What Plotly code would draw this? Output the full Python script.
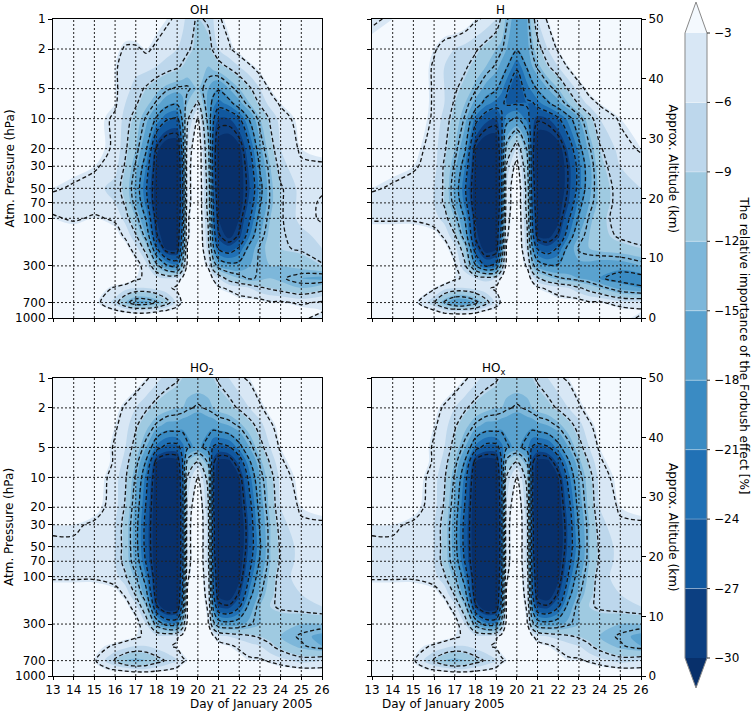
import numpy as np
import plotly.graph_objects as go

# day of January 2005 (columns) and pressure levels in hPa (rows, top to bottom)
days = [13, 14, 15, 16, 16.5, 17, 17.5, 18, 18.5, 19, 19.25, 19.5,
        20, 20.5, 20.75, 21, 21.5, 22, 22.5, 23, 23.5, 24, 25, 26]
pressure = [1, 2, 3, 5, 7, 10, 20, 30, 50, 70, 100, 150, 200, 300, 400, 500, 700, 850, 1000]

# relative importance of the Forbush effect [%]
oh_z = [
    [0, 0, 0, 0, 0, 0, 0, -2, -3, -4, -5, -7, -9, -8, -6, -4, -2, 0, 0, 0, 0, 0, 0, 0],
    [0, 0, 0, -2, -4, -4, -3, -4, -5, -6, -7, -8, -10, -10, -8, -6, -4, -2, 0, 0, 0, 0, 0, 0],
    [0, 0, 0, -3, -5, -5, -5, -6, -7, -8, -9, -10, -11, -12, -11, -10, -8, -6, -4, -2, 0, 0, 0, 0],
    [0, 0, 0, -3, -5, -7, -9, -11, -13, -14, -14, -14, -12, -15, -17, -18, -15, -12, -9, -6, -3, -2, 0, 0],
    [0, 0, 0, -3, -6, -8, -11, -14, -17, -18, -16, -12, -8, -16, -20, -22, -20, -16, -12, -8, -5, -3, 0, 0],
    [0, 0, -2, -4, -7, -10, -14, -19, -23, -24, -18, -9, -3, -15, -23, -27, -27, -24, -18, -12, -8, -5, -2, 0],
    [0, 0, -2, -4, -8, -12, -18, -29, -33, -33, -22, -6, 0, -12, -26, -32, -33, -31, -24, -16, -10, -6, -3, -2],
    [-2, -2, -3, -5, -9, -14, -21, -31, -34, -34, -24, -5, 0, -11, -26, -32, -34, -32, -26, -18, -12, -7, -4, -4],
    [-3, -4, -5, -7, -10, -16, -23, -32, -35, -34, -25, -5, 0, -10, -25, -32, -34, -32, -27, -20, -13, -9, -5, -4],
    [-5, -5, -5, -6, -9, -15, -22, -32, -35, -34, -25, -5, 0, -10, -24, -31, -33, -32, -26, -19, -13, -9, -5, -3],
    [-3, -4, -3, -4, -7, -12, -19, -30, -34, -33, -24, -4, 0, -9, -23, -30, -32, -30, -24, -17, -12, -9, -5, -3],
    [0, -1, -1, -2, -4, -8, -15, -28, -33, -32, -22, -4, 0, -8, -21, -28, -31, -28, -21, -15, -11, -9, -7, -5],
    [0, 0, 0, 0, -2, -5, -10, -23, -31, -31, -20, -3, 0, -7, -18, -24, -26, -23, -17, -13, -11, -9, -8, -6],
    [0, 0, 0, 0, 0, -2, -5, -12, -18, -20, -12, -2, 0, -4, -11, -15, -17, -17, -15, -13, -12, -12, -11, -9],
    [0, 0, 0, 0, -1, -3, -4, -5, -6, -5, -3, 0, 0, -1, -4, -6, -10, -12, -14, -13, -12, -13, -15, -16],
    [0, 0, -1, -4, -5, -6, -6, -5, -4, -3, -2, -1, 0, 0, -1, -3, -4, -5, -6, -8, -9, -10, -12, -10],
    [0, 0, -2, -7, -12, -16, -16, -14, -10, -5, -3, -2, -1, 0, 0, 0, -1, -2, -2, -2, -3, -3, -4, -3],
    [0, 0, -1, -3, -4, -5, -5, -4, -3, -2, -1, 0, 0, 0, 0, 0, 0, 0, 0, 0, 0, 0, -2, -3],
    [0, 0, 0, 0, 0, 0, 0, 0, 0, 0, 0, 0, 0, 0, 0, 0, 0, 0, 0, 0, 0, 0, -2, -6],
]

h_z = [
    [-4, -3, 0, 0, 0, 0, -1, -3, -4, -6, -9, -13, -17, -15, -10, -6, -3, 0, 0, 0, 0, 0, 0, 0],
    [-2, -1, 0, -3, -5, -6, -7, -8, -10, -12, -13, -15, -18, -16, -13, -10, -6, -3, 0, 0, 0, 0, 0, 0],
    [0, 0, 0, -4, -6, -7, -8, -10, -12, -14, -16, -18, -23, -18, -15, -13, -9, -6, -3, 0, 0, 0, 0, 0],
    [0, 0, 0, -4, -6, -8, -10, -13, -16, -18, -20, -23, -26, -22, -20, -18, -15, -12, -8, -5, -2, 0, 0, 0],
    [0, 0, 0, -4, -6, -9, -12, -16, -20, -22, -23, -24, -24, -24, -24, -22, -19, -16, -12, -8, -5, -3, 0, 0],
    [0, 0, -1, -4, -7, -10, -14, -22, -26, -27, -24, -20, -18, -22, -26, -28, -27, -24, -20, -15, -10, -6, -3, -2],
    [0, 0, -2, -5, -8, -12, -18, -30, -33, -33, -25, -12, -6, -14, -27, -33, -34, -32, -26, -20, -14, -9, -5, -3],
    [-2, -2, -3, -5, -9, -14, -21, -31, -34, -34, -25, -8, -2, -12, -27, -33, -34, -33, -28, -22, -16, -10, -6, -5],
    [-3, -4, -5, -6, -9, -16, -23, -32, -35, -34, -25, -6, 0, -10, -26, -32, -34, -33, -28, -22, -16, -11, -7, -6],
    [-5, -5, -5, -6, -9, -15, -22, -32, -35, -34, -25, -6, 0, -10, -25, -32, -34, -32, -27, -20, -15, -11, -7, -6],
    [-4, -4, -4, -5, -7, -12, -19, -30, -34, -33, -24, -5, 0, -9, -24, -31, -33, -31, -24, -18, -13, -10, -7, -6],
    [-1, -1, -1, -2, -4, -8, -16, -29, -33, -32, -22, -4, 0, -8, -22, -30, -31, -28, -21, -15, -12, -10, -8, -7],
    [0, 0, 0, 0, -2, -5, -11, -26, -32, -31, -20, -3, 0, -7, -18, -24, -26, -23, -17, -13, -12, -11, -10, -9],
    [0, 0, 0, 0, -1, -3, -8, -18, -24, -22, -12, -2, 0, -4, -12, -16, -18, -18, -17, -16, -16, -17, -17, -15],
    [0, 0, 0, 0, -1, -3, -4, -6, -7, -6, -3, 0, 0, -1, -5, -8, -11, -13, -14, -15, -16, -18, -20, -20],
    [0, 0, -1, -3, -5, -6, -6, -5, -4, -3, -2, -1, 0, 0, -1, -3, -4, -5, -6, -8, -10, -12, -16, -18],
    [0, 0, -2, -8, -14, -18, -18, -15, -10, -5, -3, -2, -1, 0, 0, 0, -1, -2, -2, -2, -3, -3, -5, -5],
    [0, 0, -1, -3, -5, -6, -6, -5, -3, -2, -1, 0, 0, 0, 0, 0, 0, 0, 0, 0, 0, 0, -2, -3],
    [0, 0, 0, 0, 0, 0, 0, 0, 0, 0, 0, 0, 0, 0, 0, 0, 0, 0, 0, 0, 0, 0, -2, -4],
]

ho2_z = [
    [0, 0, 0, 0, 0, -1, -3, -5, -7, -8, -9, -10, -10, -10, -9, -8, -6, -4, -3, -1, 0, 0, 0, 0],
    [0, 0, 0, -2, -4, -6, -8, -10, -11, -12, -12, -13, -14, -13, -12, -11, -10, -8, -6, -4, -2, 0, 0, 0],
    [0, 0, 0, -3, -5, -8, -11, -14, -16, -16, -17, -17, -18, -17, -17, -16, -15, -13, -10, -7, -4, -2, 0, 0],
    [0, 0, 0, -4, -6, -10, -15, -22, -25, -25, -22, -19, -17, -20, -24, -25, -24, -20, -15, -10, -6, -3, 0, 0],
    [0, 0, 0, -4, -7, -12, -19, -30, -32, -31, -24, -12, -8, -14, -28, -31, -31, -26, -19, -13, -8, -4, -1, 0],
    [0, 0, -1, -5, -8, -14, -22, -32, -34, -33, -25, -8, -3, -10, -28, -33, -33, -30, -22, -15, -10, -5, -2, -1],
    [-1, -1, -2, -5, -9, -16, -24, -33, -35, -34, -26, -6, 0, -8, -28, -34, -35, -32, -25, -17, -11, -6, -3, -2],
    [-3, -3, -4, -6, -10, -17, -25, -33, -35, -34, -26, -5, 0, -7, -27, -34, -35, -33, -26, -18, -12, -7, -4, -4],
    [-4, -4, -5, -6, -10, -17, -25, -33, -35, -34, -26, -5, 0, -7, -27, -34, -35, -33, -26, -19, -12, -8, -5, -4],
    [-5, -5, -5, -6, -10, -16, -24, -33, -35, -34, -26, -5, 0, -7, -26, -33, -35, -32, -25, -18, -12, -8, -5, -5],
    [-4, -4, -4, -5, -8, -13, -21, -32, -35, -34, -25, -4, 0, -6, -25, -32, -34, -31, -23, -16, -11, -7, -5, -4],
    [-1, -1, -1, -2, -4, -9, -17, -31, -34, -33, -24, -3, 0, -5, -23, -31, -32, -28, -20, -14, -10, -7, -6, -5],
    [0, 0, 0, 0, -2, -5, -12, -28, -33, -32, -22, -3, 0, -4, -20, -27, -28, -24, -17, -12, -9, -8, -7, -6],
    [0, 0, 0, 0, 0, -2, -6, -15, -20, -20, -12, -2, 0, -3, -12, -16, -17, -16, -14, -12, -11, -11, -12, -12],
    [0, 0, 0, -1, -2, -3, -4, -5, -5, -4, -2, -1, 0, -1, -3, -5, -6, -7, -8, -9, -10, -12, -14, -16],
    [0, 0, -2, -4, -5, -6, -6, -5, -4, -3, -2, -1, 0, 0, -1, -2, -3, -4, -5, -6, -8, -10, -13, -15],
    [0, 0, -3, -9, -12, -13, -12, -10, -8, -6, -4, -3, -2, -1, 0, 0, -1, -2, -3, -3, -4, -5, -7, -6],
    [0, 0, -2, -4, -5, -6, -6, -5, -4, -3, -2, -1, 0, 0, 0, 0, 0, 0, 0, 0, -1, -2, -3, -3],
    [0, 0, 0, 0, 0, 0, 0, 0, 0, 0, 0, 0, 0, 0, 0, 0, 0, 0, 0, 0, 0, 0, 0, 0],
]

# HOx looks the same as HO2 in the picture
hox_z = [row[:] for row in ho2_z]

pressure_ticks = [1, 2, 5, 10, 20, 30, 50, 70, 100, 300, 700, 1000]
altitude_ticks = [0, 10, 20, 30, 40, 50]
cbar_ticks = [-30, -27, -24, -21, -18, -15, -12, -9, -6, -3]
band_colors = ["#08306b", "#0c3f81", "#11589f", "#2171b5", "#3a8bc3", "#5aa2cf",
               "#7db7da", "#9fcae1", "#bdd7ec", "#d8e7f5", "#f4f9fe"]

W, H = 754, 711
FONT = "DejaVu Sans"
TXT = dict(family=FONT, size=12, color="black")

# panel boxes in pixels: left, right, top, bottom
boxes = {1: (53, 322, 19, 318), 2: (372, 641, 19, 318),
         3: (53, 322, 378, 676), 4: (372, 641, 378, 676)}
panels = [(1, "OH", oh_z), (2, "H", h_z), (3, "HO<sub>2</sub>", ho2_z), (4, "HO<sub>x</sub>", hox_z)]

def px(x):
    return x / W

def py(y):
    return 1 - y / H

colorscale = [[i / (len(band_colors) - 1), c] for i, c in enumerate(band_colors)]
logp = np.log10(pressure)

fig = go.Figure()
annotations = []
shapes = []

for k, name, z in panels:
    sx = "" if k == 1 else str(k)
    l, r, t, b = boxes[k]
    fig.add_trace(go.Contour(
        x=days, y=logp, z=z, xaxis="x" + sx, yaxis="y" + sx,
        colorscale=colorscale, autocontour=False,
        contours=dict(start=-30, end=-3, size=3, coloring="fill", showlines=False),
        line=dict(width=0), hoverinfo="skip", showscale=False,
    ))
    # dashed black isolines on top
    fig.add_trace(go.Contour(
        x=days, y=logp, z=z, xaxis="x" + sx, yaxis="y" + sx,
        autocontour=False, showscale=False, hoverinfo="skip",
        contours=dict(start=-28.5, end=-3.5, size=5, coloring="none"),
        line=dict(color="#151515", width=1.3, dash="4px,2.5px"),
    ))

    bottom = k in (3, 4)
    left = k in (1, 3)
    fig.layout["xaxis" + sx] = dict(
        domain=[px(l), px(r)], anchor="y" + sx, range=[13, 26], automargin=False,
        tickvals=list(range(13, 27)), showticklabels=bottom,
        ticks="outside", ticklen=3, tickcolor="black",
        showline=True, linecolor="black", linewidth=1, mirror=True,
        showgrid=False, zeroline=False, tickfont=TXT,
    )
    fig.layout["yaxis" + sx] = dict(
        domain=[py(b), py(t)], anchor="x" + sx, range=[3, 0], automargin=False,
        tickvals=list(np.log10(pressure_ticks)), ticktext=[str(p) for p in pressure_ticks],
        showticklabels=left, ticks="outside", ticklen=4, tickcolor="black",
        showline=True, linecolor="black", linewidth=1, mirror=True,
        showgrid=False, zeroline=False, tickfont=TXT,
    )

    # dotted grid drawn above the fill
    for d in range(14, 26):
        shapes.append(dict(type="line", xref="x" + sx, yref="y" + sx + " domain",
                           x0=d, x1=d, y0=0, y1=1, layer="above",
                           line=dict(color="#222", width=1, dash="2px,2px")))
    for p in pressure_ticks[1:-1]:
        shapes.append(dict(type="line", xref="x" + sx + " domain", yref="y" + sx,
                           x0=0, x1=1, y0=np.log10(p), y1=np.log10(p), layer="above",
                           line=dict(color="#222", width=1, dash="2px,2px")))

    annotations.append(dict(text=name, x=px((l + r) / 2), y=py(t - 9), xref="paper", yref="paper",
                            showarrow=False, yanchor="middle", font=TXT))
    if bottom:
        annotations.append(dict(text="Day of January 2005", x=px((l + r) / 2), y=py(b + 28),
                                xref="paper", yref="paper", showarrow=False, yanchor="middle",
                                font=TXT))
    if left:
        annotations.append(dict(text="Atm. Pressure (hPa)", x=px(9), y=py((t + b) / 2),
                                xref="paper", yref="paper", showarrow=False, textangle=-90,
                                xanchor="center", yanchor="middle", font=TXT))
    else:
        annotations.append(dict(text="Approx. Altitude (km)", x=px(673), y=py((t + b) / 2),
                                xref="paper", yref="paper", showarrow=False, textangle=90,
                                xanchor="center", yanchor="middle", font=TXT))

# altitude axes on the right panels
for k, ya in ((2, "yaxis5"), (4, "yaxis6")):
    l, r, t, b = boxes[k]
    fig.layout[ya] = dict(
        domain=[py(b), py(t)], anchor="x%d" % k, overlaying="y%d" % k, side="right",
        range=[0, 50], tickvals=altitude_ticks, ticks="outside", ticklen=4, tickcolor="black",
        showgrid=False, zeroline=False, showline=False, tickfont=TXT, automargin=False,
    )
    fig.add_trace(go.Scatter(x=[26] * len(altitude_ticks), y=altitude_ticks, xaxis="x%d" % k,
                             yaxis=ya.replace("axis", ""), mode="markers",
                             marker=dict(opacity=0), hoverinfo="skip", showlegend=False))

# colorbar with extension triangles, built from the level list
cb_left, cb_right, cb_top, cb_bot = 685, 707, 33, 658
cb_mid = (cb_left + cb_right) / 2

def cb_y(v):
    return cb_top + (v - cbar_ticks[-1]) / (cbar_ticks[0] - cbar_ticks[-1]) * (cb_bot - cb_top)

for i in range(len(cbar_ticks) - 1):
    shapes.append(dict(type="rect", xref="paper", yref="paper", layer="above",
                       x0=px(cb_left), x1=px(cb_right),
                       y0=py(cb_y(cbar_ticks[i])), y1=py(cb_y(cbar_ticks[i + 1])),
                       fillcolor=band_colors[i + 1], line=dict(width=0)))
for i in range(1, len(cbar_ticks) - 1):
    shapes.append(dict(type="line", xref="paper", yref="paper", layer="above",
                       x0=px(cb_left), x1=px(cb_right),
                       y0=py(cb_y(cbar_ticks[i])), y1=py(cb_y(cbar_ticks[i])),
                       line=dict(color="rgba(255,255,255,0.35)", width=1)))
shapes.append(dict(type="path", xref="paper", yref="paper", layer="below",
                   path="M %f %f L %f %f L %f %f Z" % (px(cb_left), py(cb_top), px(cb_right), py(cb_top),
                                                    px(cb_mid), py(cb_top - 31)),
                   fillcolor=band_colors[-1], line=dict(width=0)))
shapes.append(dict(type="path", xref="paper", yref="paper", layer="below",
                   path="M %f %f L %f %f L %f %f Z" % (px(cb_left), py(cb_bot), px(cb_right), py(cb_bot),
                                                    px(cb_mid), py(cb_bot + 30)),
                   fillcolor=band_colors[0], line=dict(width=0)))
shapes.append(dict(type="path", xref="paper", yref="paper", layer="above",
                   path="M %f %f L %f %f L %f %f L %f %f L %f %f L %f %f Z" % (
                       px(cb_left), py(cb_top), px(cb_mid), py(cb_top - 31), px(cb_right), py(cb_top),
                       px(cb_right), py(cb_bot), px(cb_mid), py(cb_bot + 30), px(cb_left), py(cb_bot)),
                   fillcolor="rgba(0,0,0,0)", line=dict(color="#888", width=1)))
for v in cbar_ticks:
    shapes.append(dict(type="line", xref="paper", yref="paper", layer="above",
                       x0=px(cb_right), x1=px(cb_right + 3), y0=py(cb_y(v)), y1=py(cb_y(v)),
                       line=dict(color="#333", width=1)))
    annotations.append(dict(text="\u2212%d" % abs(v), x=px(cb_right + 5), y=py(cb_y(v)),
                            xref="paper", yref="paper", showarrow=False,
                            xanchor="left", yanchor="middle", font=TXT))

annotations.append(dict(text="The relative importance of the Forbush effect [%]",
                        x=px(744), y=py((cb_top + cb_bot) / 2), xref="paper", yref="paper",
                        showarrow=False, textangle=90, xanchor="center", yanchor="middle",
                        font=TXT))

fig.update_layout(
    width=W, height=H, margin=dict(l=0, r=0, t=0, b=0, autoexpand=False),
    paper_bgcolor="white", plot_bgcolor="white",
    showlegend=False, annotations=annotations, shapes=shapes, font=TXT,
)

# the page body has a default 8px margin; drop it so the figure fills the window
fig.write_html("out.html", config={"displayModeBar": False},
               post_script="document.body.style.margin = '0';")
